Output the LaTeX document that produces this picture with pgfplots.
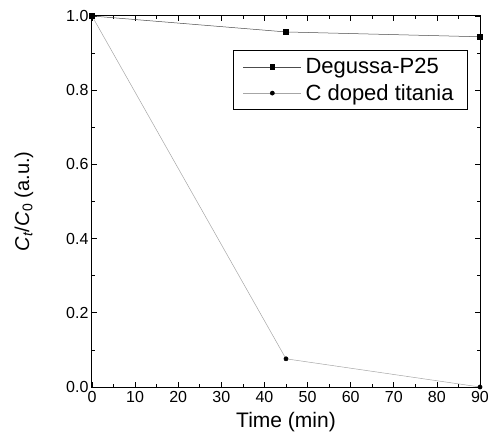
\documentclass[border=0pt]{standalone}
\usepackage{pgfplots}
\pgfplotsset{compat=1.18}
\usepackage{fontspec}
\setmainfont{Liberation Sans}
\begin{document}
\begin{tikzpicture}
\useasboundingbox (-92pt,-47pt) rectangle (400pt,387pt);
\begin{axis}[
  scale only axis,
  width=388pt, height=371pt,
  at={(0pt,0pt)}, anchor=south west,
  xmin=0, xmax=90, ymin=0, ymax=1.0,
  xtick={0,10,...,90},
  ytick={0,0.2,...,1.0},
  minor x tick num=1,
  minor y tick num=1,
  tick align=inside,
  xtick pos=both, ytick pos=both,
  major tick length=5pt, minor tick length=3pt,
  axis line style={line width=1pt},
  every tick/.style={black, line width=0.7pt},
  /pgf/number format/assume math mode=true,
  /pgf/number format/fixed,
  /pgf/number format/fixed zerofill,
  /pgf/number format/precision=1,
  xticklabel={\pgfmathprintnumber[precision=0,fixed zerofill=false]{\tick}},
  ticklabel style={font=\fontsize{16}{18}\selectfont},
  xticklabel style={yshift=-1pt},
  xlabel={Time (min)},
  ylabel={\textit{C}\textsubscript{\textit{t}}/\textit{C}\textsubscript{0} (a.u.)},
  xlabel style={font=\fontsize{21}{23}\selectfont, yshift=-3pt},
  ylabel style={font=\fontsize{20}{22}\selectfont, yshift=26pt},
  legend style={
    at={(0.969,0.908)}, anchor=north east,
    font=\fontsize{22}{26}\selectfont,
    draw=black, line width=0.8pt,
    row sep=5pt, inner xsep=10pt, inner ysep=6pt,
    nodes={inner xsep=4pt},
  },
  legend cell align=left,
  legend image code/.code={
    \draw[#1, mark repeat=2, mark phase=2]
      plot coordinates {(0pt,0pt) (29pt,0pt) (58pt,0pt)};
  },
]
\addplot[gray!60!black, line width=0.5pt, mark=square*, mark size=2.3pt,
  mark options={black, solid}]
  coordinates {(0,1.0) (45,0.957) (90,0.944)};
\addlegendentry{Degussa-P25}
\addplot[gray!70, line width=0.5pt, mark=*, mark size=2.1pt,
  mark options={black, solid}]
  coordinates {(0,1.0) (45,0.076) (90,0.0)};
\addlegendentry{C doped titania}
\end{axis}
\end{tikzpicture}
\end{document}
